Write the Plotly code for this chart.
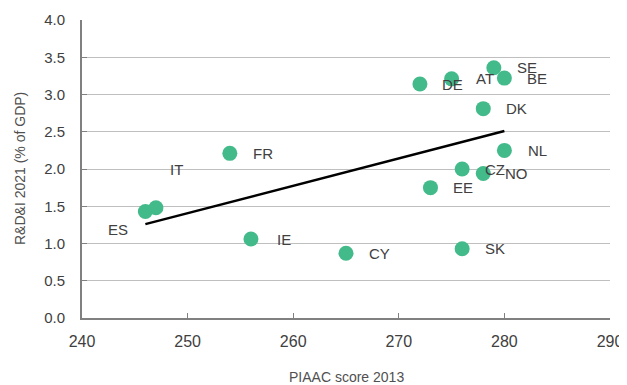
import plotly.graph_objects as go

countries = ["ES", "IT", "FR", "IE", "CY", "DE", "AT", "SE", "BE", "DK", "NL", "CZ", "NO", "EE", "SK"]
piaac = [246, 247, 254, 256, 265, 272, 275, 279, 280, 278, 280, 276, 278, 273, 276]
rdi = [1.43, 1.48, 2.21, 1.06, 0.87, 3.14, 3.21, 3.36, 3.22, 2.81, 2.25, 2.00, 1.94, 1.75, 0.93]

trend_x = [246, 280]
trend_y = [1.26, 2.51]

x_ticks = [240, 250, 260, 270, 280, 290]
y_ticks = [0.0, 0.5, 1.0, 1.5, 2.0, 2.5, 3.0, 3.5, 4.0]

x_title = "PIAAC score 2013"
y_title = "R&D&I 2021 (% of GDP)"

# label offsets in pixels (default to the right of the point)
label_shift = {"IT": (21, 38), "ES": (-27, -18)}
default_shift = (33, 0)

text_color = "#404040"
font_family = "Liberation Sans, Arial, sans-serif"

fig = go.Figure()
fig.add_trace(go.Scatter(
    x=trend_x, y=trend_y, mode="lines",
    line=dict(color="black", width=2.5), hoverinfo="skip", showlegend=False,
))
fig.add_trace(go.Scatter(
    x=piaac, y=rdi, mode="markers",
    marker=dict(color="#43BA8A", size=15, line=dict(width=0)),
    text=countries, showlegend=False,
))

for c, xv, yv in zip(countries, piaac, rdi):
    dx, dy = label_shift.get(c, default_shift)
    fig.add_annotation(
        x=xv, y=yv, text=c, showarrow=False, xshift=dx, yshift=dy,
        font=dict(family=font_family, size=15, color=text_color),
    )

fig.add_annotation(
    xref="paper", yref="paper", x=0.5, y=0, yshift=-59, text=x_title,
    showarrow=False, xanchor="center", yanchor="middle",
    font=dict(family=font_family, size=14, color="#505050"),
)
fig.add_annotation(
    xref="paper", yref="paper", x=0, y=0.5, xshift=-62, text=y_title,
    showarrow=False, xanchor="center", yanchor="middle", textangle=-90,
    font=dict(family=font_family, size=14, color="#505050"),
)

# the page body adds an 8px margin, so the figure is 8px smaller on each side
fig.update_layout(
    width=619, height=377,
    margin=dict(l=74, r=17, t=12, b=67),
    paper_bgcolor="white", plot_bgcolor="white",
    font=dict(family=font_family, color=text_color),
    xaxis=dict(
        range=[240, 290], tickvals=x_ticks, ticktext=[str(v) for v in x_ticks],
        showgrid=False, zeroline=False, automargin=False,
        showline=True, linecolor="#808080", linewidth=2,
        ticks="inside", ticklen=5, tickcolor="#808080", tickwidth=1,
        tickfont=dict(size=16, color=text_color), ticklabelstandoff=8,
    ),
    yaxis=dict(
        range=[0, 4.0], tickvals=y_ticks, ticktext=[f"{v:.1f}" for v in y_ticks],
        showgrid=True, gridcolor="#BFBFBF", gridwidth=1, zeroline=False, automargin=False,
        showline=True, linecolor="#808080", linewidth=2,
        ticks="inside", ticklen=5, tickcolor="#808080", tickwidth=1,
        tickfont=dict(size=15, color=text_color), ticklabelstandoff=12,
    ),
)

fig.write_html("out.html")
